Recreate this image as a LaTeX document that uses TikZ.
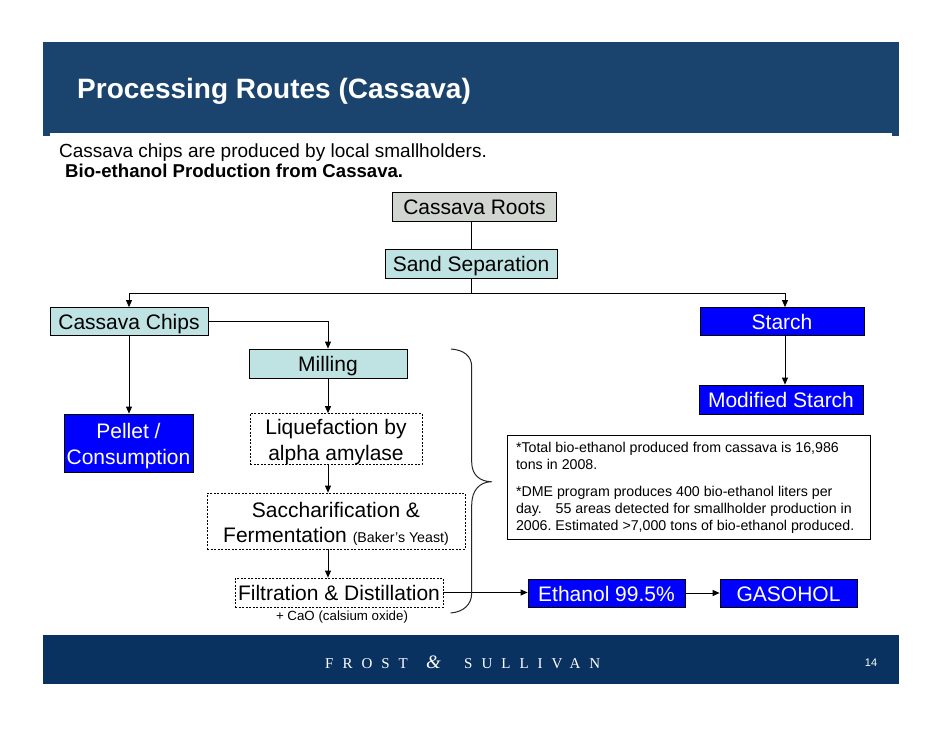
\documentclass[tikz,border=0pt]{standalone}
\usepackage{fontspec}
\setmainfont{Liberation Sans}
\newfontfamily\fsfont[LetterSpace=60]{Liberation Serif}
\newfontfamily\ampfont{Liberation Serif}
\usetikzlibrary{arrows.meta,calc}
\definecolor{titleblue}{HTML}{1A446E}
\definecolor{footblue}{HTML}{0A3260}
\definecolor{lightcyan}{HTML}{BFE3E3}
\definecolor{rootgray}{HTML}{D0D6CF}
\definecolor{boxblue}{HTML}{0000FF}
\frenchspacing
\begin{document}
\begin{tikzpicture}[x=1pt,y=-1pt,
 box/.style={draw=black,line width=0.8pt,inner sep=0pt,align=center,font=\fontsize{21}{25.5}\selectfont},
 oneline/.style={text height=16pt,text depth=0pt},
 cyanbox/.style={box,fill=lightcyan},
 bluebox/.style={box,fill=boxblue,text=white},
 dashbox/.style={box,fill=white,dash pattern=on 2pt off 1.5pt},
 conn/.style={line width=0.8pt,draw=black},
 arr/.style={conn,-{Triangle[length=7pt,width=6pt]}},
 plain/.style={inner sep=0pt}]
\useasboundingbox (0,0) rectangle (942,728);
\fill[white] (0,0) rectangle (942,728);
% title bar
\fill[titleblue] (43,42) rectangle (899,133);
\fill[titleblue] (43,133) rectangle (50,136);
\fill[titleblue] (892,133) rectangle (899,136);
\node[plain,anchor=base west,text=white,font=\bfseries\fontsize{28}{34}\selectfont] (title) at (77,98) {Processing Routes (Cassava)};
% intro text
\node[plain,anchor=base west,font=\fontsize{19}{23}\selectfont] (intro) at (59,157) {Cassava chips are produced by local smallholders.};
\node[plain,anchor=base west,font=\bfseries\fontsize{18.6}{23}\selectfont] (sub) at (65,177) {Bio-ethanol Production from Cassava.};
% nodes
\node[box,oneline,fill=rootgray,minimum width=164pt,minimum height=29pt] (roots) at (474.5,206.5) {Cassava Roots};
\node[cyanbox,oneline,minimum width=172pt,minimum height=29pt] (sand) at (471,263.5) {Sand Separation};
\node[cyanbox,oneline,minimum width=158pt,minimum height=28pt] (chips) at (129,321.5) {Cassava Chips};
\node[bluebox,oneline,minimum width=164pt,minimum height=28pt] (starch) at (782,321.5) {Starch};
\node[cyanbox,oneline,minimum width=158pt,minimum height=29pt] (milling) at (328,363.5) {Milling};
\node[bluebox,oneline,minimum width=164pt,minimum height=29pt] (modst) at (781,399.5) {Modified Starch};
\node[bluebox,minimum width=129pt,minimum height=58pt] (pellet) at (128.5,443) {\rule{0pt}{21pt}Pellet /\\Consumption};
\node[dashbox,minimum width=172pt,minimum height=50pt] (liq) at (336,439) {\rule{0pt}{21pt}Liquefaction by\\alpha amylase};
\node[dashbox,minimum width=258pt,minimum height=56pt] (sacch) at (336,521) {\rule{0pt}{21pt}Saccharification \&\\Fermentation {\fontsize{14.2}{17}\selectfont (Baker’s Yeast)}};
\node[dashbox,oneline,minimum width=208pt,minimum height=29pt] (filt) at (339,592.5) {Filtration \& Distillation};
\node[plain,font=\fontsize{13.3}{16}\selectfont] (cao) at (342,617) {+ CaO (calsium oxide)};
\node[bluebox,oneline,minimum width=157pt,minimum height=28pt] (ethanol) at (606.5,593) {Ethanol 99.5\%};
\node[bluebox,oneline,minimum width=137pt,minimum height=28pt] (gasohol) at (788.5,593) {GASOHOL};
\node[draw=black,line width=0.8pt,fill=white,minimum width=363pt,minimum height=104pt,inner sep=0pt] (notes) at (688.5,487.5)
 {\parbox{345pt}{\raggedright\fontsize{14.2}{17}\selectfont
 *Total bio-ethanol produced from cassava is 16,986\\
 tons in 2008.\\[10pt]
 *DME program produces 400 bio-ethanol liters per\\
 day.\hspace{10pt} 55 areas detected for smallholder production in\\
 2006. Estimated >7,000 tons of bio-ethanol produced.}};
% connectors
\coordinate (split) at (471,293);
\draw[conn] (roots.south -| sand.north) -- (sand.north);
\draw[conn] (sand.south) -- (split);
\draw[arr] (split) -| (chips.north);
\draw[arr] (split) -| ([xshift=3pt]starch.north);
\draw[arr] ([xshift=3pt]starch.south) -- ([xshift=3pt]starch.south |- modst.north);
\draw[arr] (chips.east) -| (milling.north);
\draw[arr] (chips.south) -- (chips.south |- pellet.north);
\draw[arr] (milling.south) -- (milling.south |- liq.north);
\draw[arr] (milling.south |- liq.south) -- (milling.south |- sacch.north);
\draw[arr] (milling.south |- sacch.south) -- (milling.south |- filt.north);
\draw[arr] (filt.east) -- (filt.east -| ethanol.west);
\draw[arr] (ethanol.east) -- (gasohol.west);
% brace
\draw[line width=1pt,draw=black!85] (451,349) .. controls (464,350) and (471.7,356) .. (471.7,367)
  -- (471.7,462) .. controls (471.7,475) and (480,481.7) .. (491.7,481.7)
  .. controls (480,481.7) and (471.7,490) .. (471.7,505)
  -- (471.7,593) .. controls (471.7,605) and (463,612) .. (450.7,613);
% footer
\fill[footblue] (43,635) rectangle (899,684);
\node[plain,anchor=base west,text=white,font=\fsfont\fontsize{15}{18}\selectfont] (fs1) at (325,668) {FROST};
\node[plain,anchor=base west,text=white,font=\ampfont\itshape\fontsize{19}{20}\selectfont] (amp) at (426,668) {\&};
\node[plain,anchor=base west,text=white,font=\fsfont\fontsize{15}{18}\selectfont] (fs2) at (464,668) {SULLIVAN};
\node[plain,text=white,font=\fontsize{11}{13}\selectfont] (page) at (871,663) {14};
\end{tikzpicture}
\end{document}
